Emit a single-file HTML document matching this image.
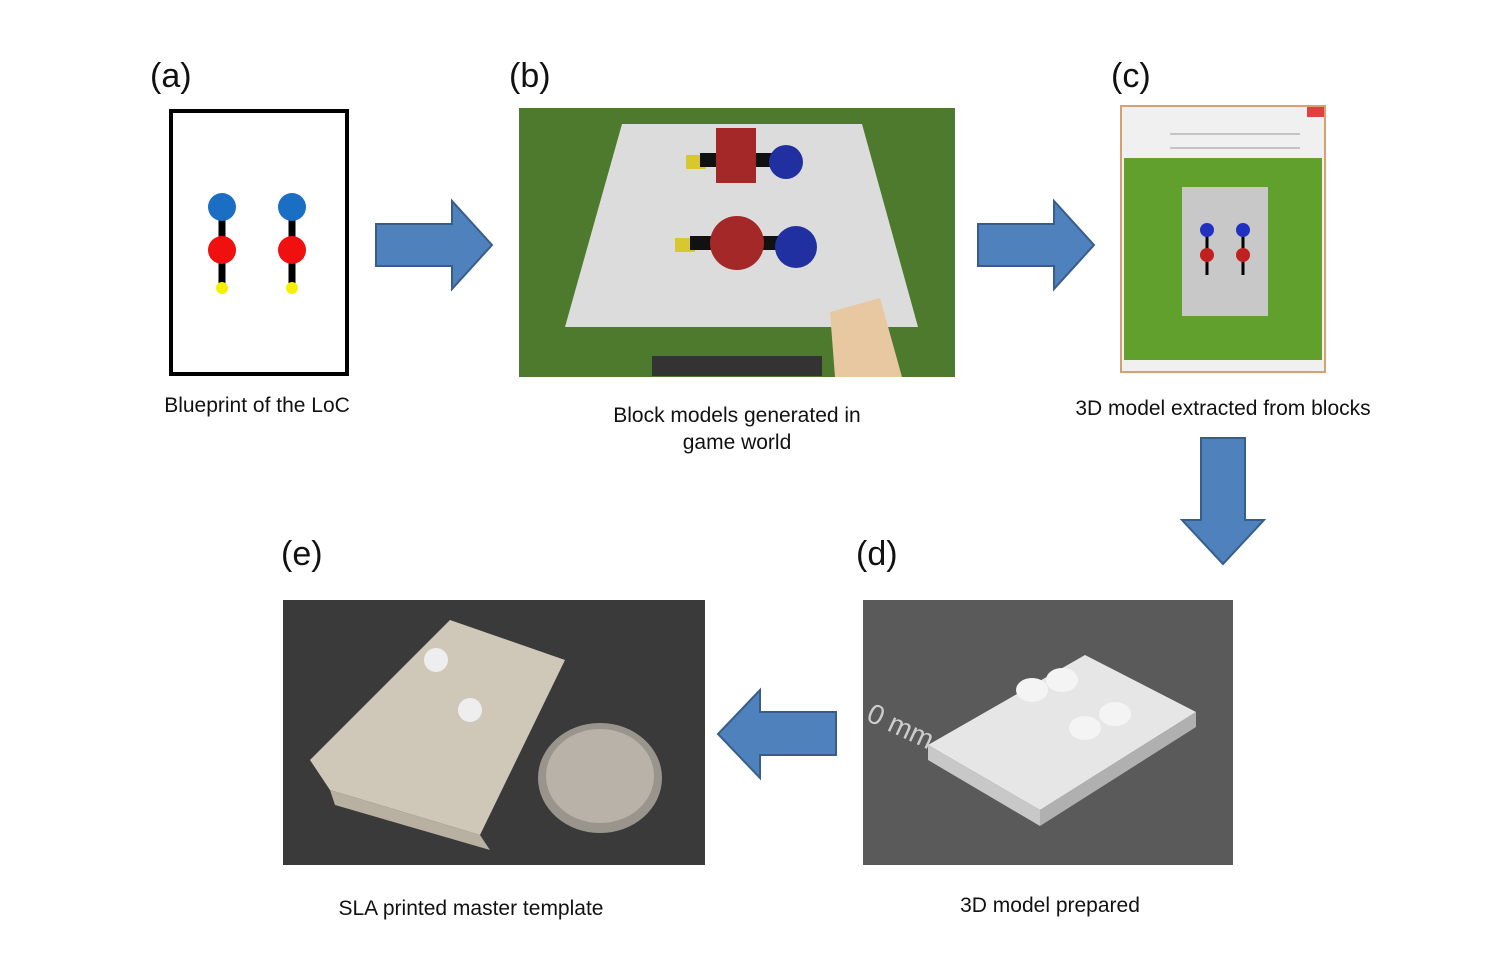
<!DOCTYPE html>
<html><head><meta charset="utf-8">
<style>
html,body{margin:0;padding:0;background:#fff;}
svg{display:block;}
text{font-family:"Liberation Sans","Noto Sans CJK KR",sans-serif;fill:#111;}
.lbl{font-size:34px;}
.cap{font-size:21px;text-anchor:middle;}
</style></head>
<body>
<svg width="1500" height="960" viewBox="0 0 1500 960">
  <!-- panel a -->
  <g>
    <text class="lbl" x="150" y="87">(a)</text>
    <rect x="171" y="111" width="176" height="263" fill="#fff" stroke="#000" stroke-width="4"/>
    <g>
      <line x1="222" y1="207" x2="222" y2="288" stroke="#000" stroke-width="7"/>
      <circle cx="222" cy="207" r="14" fill="#1a6fc4"/>
      <circle cx="222" cy="250" r="14" fill="#f01010"/>
      <circle cx="222" cy="288" r="6" fill="#f5f000"/>
    </g>
    <g>
      <line x1="292" y1="207" x2="292" y2="288" stroke="#000" stroke-width="7"/>
      <circle cx="292" cy="207" r="14" fill="#1a6fc4"/>
      <circle cx="292" cy="250" r="14" fill="#f01010"/>
      <circle cx="292" cy="288" r="6" fill="#f5f000"/>
    </g>
    <text class="cap" x="257" y="412">Blueprint of the LoC</text>
  </g>

  <!-- arrows -->
  <polygon points="376,224 452,224 452,201 492,245 452,289 452,266 376,266" fill="#4f81bd" stroke="#385d8a" stroke-width="2"/>
  <polygon points="978,224 1054,224 1054,201 1094,245 1054,289 1054,266 978,266" fill="#4f81bd" stroke="#385d8a" stroke-width="2"/>
  <polygon points="1201,438 1245,438 1245,520 1264,520 1223,564 1182,520 1201,520" fill="#4f81bd" stroke="#385d8a" stroke-width="2"/>
  <polygon points="836,712 760,712 760,690 718,734 760,778 760,755 836,755" fill="#4f81bd" stroke="#385d8a" stroke-width="2"/>

  <!-- panel b -->
  <g>
    <text class="lbl" x="509" y="87">(b)</text>
    <rect x="519" y="108" width="436" height="269" fill="#4e7a2e"/>
    <polygon points="622,124 862,124 918,327 565,327" fill="#dcdcdc"/>
    <rect x="686" y="155" width="20" height="14" fill="#d8c830"/>
    <rect x="700" y="153" width="90" height="14" fill="#111"/>
    <rect x="716" y="128" width="40" height="55" fill="#a52828"/>
    <circle cx="786" cy="162" r="17" fill="#2030a0"/>
    <rect x="675" y="238" width="20" height="14" fill="#d8c830"/>
    <rect x="690" y="236" width="100" height="14" fill="#111"/>
    <circle cx="737" cy="243" r="27" fill="#a52828"/>
    <circle cx="796" cy="247" r="21" fill="#2030a0"/>
    <rect x="652" y="356" width="170" height="20" fill="#333"/>
    <polygon points="830,312 880,298 902,377 835,377" fill="#e8c8a0"/>
    <text class="cap" x="737" y="422">Block models generated in</text>
    <text class="cap" x="737" y="449">game world</text>
  </g>

  <!-- panel c -->
  <g>
    <text class="lbl" x="1111" y="87">(c)</text>
    <rect x="1121" y="106" width="204" height="266" fill="#f0f0f0" stroke="#d8a070" stroke-width="2"/>
    <rect x="1307" y="107" width="17" height="10" fill="#e04040"/>
    <line x1="1170" y1="134" x2="1300" y2="134" stroke="#999"/>
    <line x1="1170" y1="148" x2="1300" y2="148" stroke="#999"/>
    <rect x="1124" y="158" width="198" height="202" fill="#62a02e"/>
    <rect x="1182" y="187" width="86" height="129" fill="#c8c8c8"/>
    <line x1="1207" y1="230" x2="1207" y2="275" stroke="#000" stroke-width="3"/>
    <line x1="1243" y1="230" x2="1243" y2="275" stroke="#000" stroke-width="3"/>
    <circle cx="1207" cy="230" r="7" fill="#2030c0"/>
    <circle cx="1243" cy="230" r="7" fill="#2030c0"/>
    <circle cx="1207" cy="255" r="7" fill="#c02020"/>
    <circle cx="1243" cy="255" r="7" fill="#c02020"/>
    <text class="cap" x="1223" y="415">3D model extracted from blocks</text>
  </g>

  <!-- panel d -->
  <g>
    <text class="lbl" x="856" y="565">(d)</text>
    <rect x="863" y="600" width="370" height="265" fill="#5a5a5a"/>
    <polygon points="928,745 1085,655 1196,712 1040,810" fill="#e6e6e6"/>
    <polygon points="928,745 1040,810 1040,826 928,760" fill="#c8c8c8"/>
    <polygon points="1040,810 1196,712 1196,727 1040,826" fill="#b0b0b0"/>
    <ellipse cx="1032" cy="690" rx="16" ry="12" fill="#f4f4f4"/>
    <ellipse cx="1062" cy="680" rx="16" ry="12" fill="#f4f4f4"/>
    <ellipse cx="1085" cy="728" rx="16" ry="12" fill="#f4f4f4"/>
    <ellipse cx="1115" cy="714" rx="16" ry="12" fill="#f4f4f4"/>
    <text x="865" y="720" transform="rotate(25 865 720)" style="font-size:28px;fill:#ccc">0 mm</text>
    <text class="cap" x="1050" y="912">3D model prepared</text>
  </g>

  <!-- panel e -->
  <g>
    <text class="lbl" x="281" y="565">(e)</text>
    <rect x="283" y="600" width="422" height="265" fill="#3a3a3a"/>
    <polygon points="310,760 450,620 565,660 480,835 330,790" fill="#cfc8b8"/>
    <polygon points="330,790 480,835 490,850 335,805" fill="#b8b0a0"/>
    <circle cx="436" cy="660" r="12" fill="#eee"/>
    <circle cx="470" cy="710" r="12" fill="#eee"/>
    <ellipse cx="600" cy="778" rx="62" ry="55" fill="#9a958c"/>
    <ellipse cx="600" cy="776" rx="54" ry="47" fill="#b8b2a8"/>
    <text class="cap" x="471" y="915">SLA printed master template</text>
  </g>
</svg>
</body></html>
